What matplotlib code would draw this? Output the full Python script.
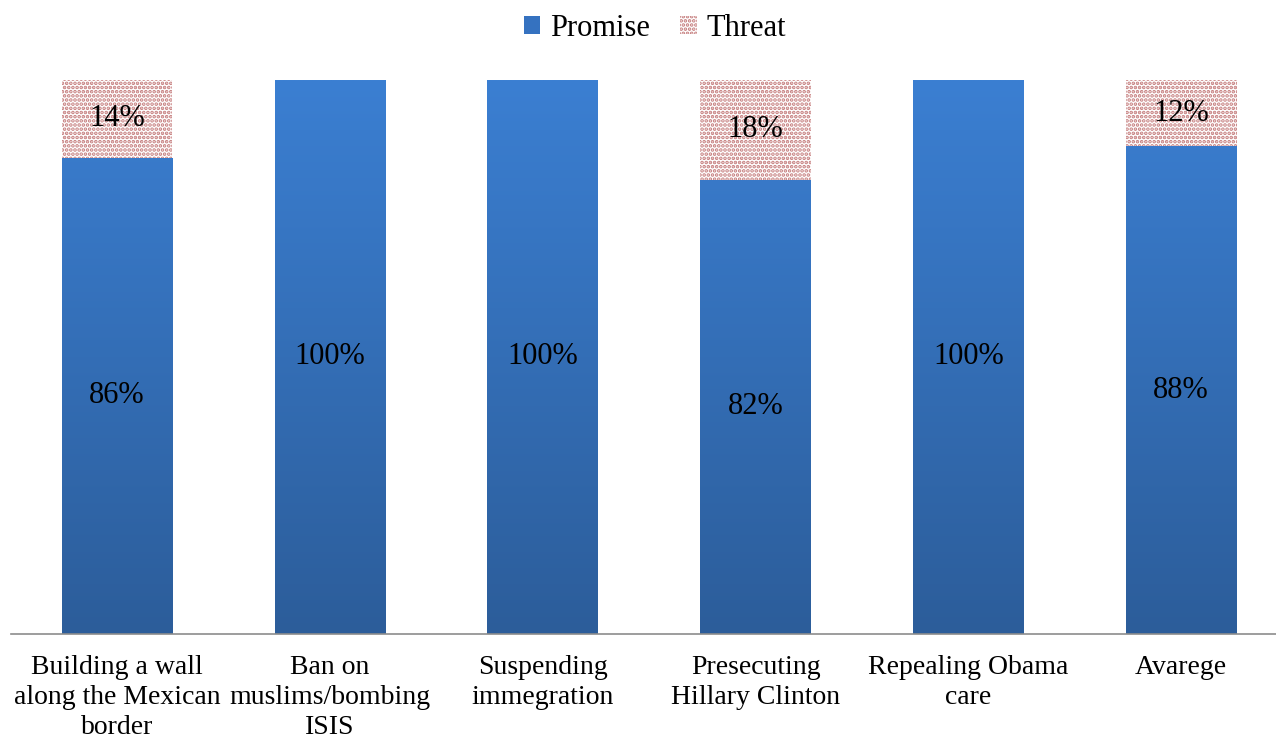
import matplotlib.pyplot as plt
import numpy as np
from matplotlib.colors import LinearSegmentedColormap
from matplotlib.patches import Patch

plt.rcParams['font.family'] = ['Liberation Serif', 'DejaVu Serif']
plt.rcParams['hatch.linewidth'] = 1.8

categories = ["Building a wall\nalong the Mexican\nborder", "Ban on\nmuslims/bombing\nISIS",
              "Suspending\nimmegration", "Presecuting\nHillary Clinton",
              "Repealing Obama\ncare", "Avarege"]
promise = [86, 100, 100, 82, 100, 88]
threat = [14, 0, 0, 18, 0, 12]

fig = plt.figure(figsize=(12.76, 7.42), dpi=100)
ax = fig.add_axes([10.6 / 1276, 108 / 742, 1277 / 1276, 554 / 742])

x = np.arange(len(categories))
width = 0.52

blue_cmap = LinearSegmentedColormap.from_list("b", ["#2c5d9a", "#3b7fd2"])
grad = np.linspace(0, 1, 256).reshape(-1, 1)

bars = ax.bar(x, promise, width, color="#3572c0", linewidth=0)
for b in bars:
    im = ax.imshow(grad, cmap=blue_cmap, origin="lower", aspect="auto",
                   extent=[b.get_x(), b.get_x() + b.get_width(), 0, 100], zorder=1)
    im.set_clip_path(b)

threat_bars = ax.bar(x, threat, width, bottom=promise, facecolor="white",
                     edgecolor="#c47a7a", hatch="....", linewidth=0, zorder=2)

for i in range(len(x)):
    ax.text(x[i], promise[i] / 2, f"{promise[i]}%", ha="center", va="center",
            fontsize=22, zorder=3)
    if threat[i] > 0:
        ax.text(x[i], promise[i] + threat[i] / 2, f"{threat[i]}%", ha="center",
                va="center", fontsize=22, zorder=3)

ax.set_xlim(-0.5, len(x) - 0.5)
ax.set_ylim(0, 100)
ax.set_xticks(x)
ax.set_xticklabels(categories, fontsize=20, linespacing=1.27)
ax.tick_params(axis="x", length=0, pad=15)
ax.set_yticks([])
for s in ["top", "right", "left"]:
    ax.spines[s].set_visible(False)
ax.spines["bottom"].set_color("#8c8c8c")
ax.spines["bottom"].set_linewidth(1.2)

handles = [Patch(facecolor="#3572c0", label="Promise"),
           Patch(facecolor="white", edgecolor="#c47a7a", hatch="....", linewidth=0, label="Threat")]
fig.legend(handles=handles, loc="center", bbox_to_anchor=(0.513, 0.962), ncol=2,
           frameon=False, fontsize=22, handlelength=0.55, handleheight=0.55,
           handletextpad=0.3, columnspacing=1.0)

fig.savefig("out.png", dpi=100)
